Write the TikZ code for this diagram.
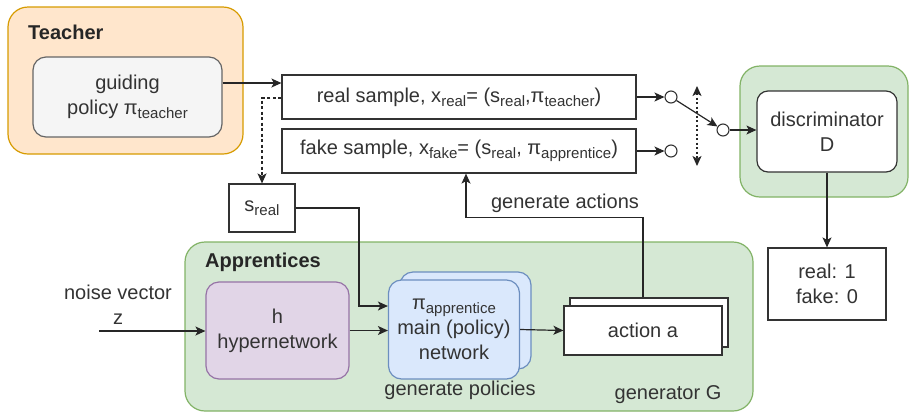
\documentclass[tikz,border=0pt]{standalone}
\usepackage{fontspec}
\setmainfont{Liberation Sans}
\usetikzlibrary{arrows.meta,calc}
\definecolor{orgfill}{HTML}{FFE6CC}
\definecolor{orgline}{HTML}{D79B00}
\definecolor{grnfill}{HTML}{D5E8D4}
\definecolor{grnline}{HTML}{82B366}
\definecolor{purfill}{HTML}{E1D5E7}
\definecolor{purline}{HTML}{9673A6}
\definecolor{blufill}{HTML}{DAE8FC}
\definecolor{bluline}{HTML}{6C8EBF}
\definecolor{gryfill}{HTML}{F5F5F5}
\definecolor{gryline}{HTML}{666666}
\definecolor{ink}{HTML}{333333}
% lowered, smaller text for subscripts
\newcommand\dn[1]{\raisebox{-0.4ex}{\fontsize{15}{15}\selectfont #1}}
\tikzset{
  txt/.style={font=\fontsize{20}{25}\selectfont, text=ink, align=center, inner sep=0pt},
  group/.style={rounded corners=20pt, line width=1.2pt},
  plainbox/.style={txt, draw=ink, fill=white, line width=1.2pt, rectangle},
  softbox/.style={txt, rounded corners=13pt, line width=1.2pt, rectangle},
  port/.style={circle, draw=ink, fill=white, line width=1.1pt, minimum size=12pt, inner sep=0pt},
  link/.style={draw=black!85, line width=1.2pt,
    arrows={-Stealth[length=10pt,width=9pt,inset=2.5pt]}},
  bothlink/.style={draw=black!85, line width=1.3pt,
    arrows={Stealth[length=10pt,width=9pt,inset=2.5pt]-Stealth[length=10pt,width=9pt,inset=2.5pt]}},
  heading/.style={font=\fontsize{20}{24}\selectfont\bfseries, text=black!85, anchor=west, inner sep=0pt},
}
\begin{document}
\begin{tikzpicture}[x=1pt, y=-1pt]
\useasboundingbox (0,0) rectangle (909,413);

% group backgrounds
\draw[group, fill=orgfill, draw=orgline] (8,7) rectangle (243,154);
\draw[group, fill=grnfill, draw=grnline] (740,66) rectangle (908,197);
\draw[group, fill=grnfill, draw=grnline] (185,242) rectangle (753,411);
\node[heading] (teachlbl) at (28,32) {Teacher};
\node[heading] (applbl) at (205,262) {Apprentices};

% teacher policy
\node[softbox, fill=gryfill, draw=gryline, minimum width=189pt, minimum height=80pt]
  (guide) at (127.5,97) {guiding\\policy π\dn{teacher}};

% samples
\node[plainbox, minimum width=354pt, minimum height=44pt] (real) at (459,97)
  {real sample, x\dn{real}= (s\dn{real},π\dn{teacher})};
\node[plainbox, minimum width=354pt, minimum height=44pt] (fake) at (459,151)
  {fake sample, x\dn{fake}= (s\dn{real}, π\dn{apprentice})};

% switch
\node[port] (rc) at (671,97) {};
\node[port] (fc) at (671,151) {};
\node[port] (sw) at (723,130) {};
\coordinate (swtop) at (697,86);
\coordinate (swbot) at (697,166);

% discriminator
\node[softbox, fill=white, draw=ink, rounded corners=11pt, minimum width=140pt, minimum height=81pt]
  (disc) at (827,131.5) {discriminator\\D};
\node[plainbox, minimum width=118pt, minimum height=72pt] (out) at (827,284)
  {real: 1\\fake: 0};

% real state
\node[plainbox, minimum width=66pt, minimum height=48pt] (sreal) at (262,208) {s\dn{real}};

% apprentices
\node[softbox, fill=purfill, draw=purline, minimum width=143pt, minimum height=97pt]
  (hyper) at (277.5,330.5) {h\\hypernetwork};
\node[softbox, fill=blufill, draw=bluline, minimum width=131pt, minimum height=97pt]
  (piB) at (465.5,320.5) {};
\node[softbox, fill=blufill, draw=bluline, minimum width=131pt, minimum height=99pt]
  (piF) at (454,329.5) {π\dn{apprentice}\\main (policy)\\network};
\node[plainbox, minimum width=158pt, minimum height=49pt] (actB) at (649,322.5) {};
\node[plainbox, minimum width=158pt, minimum height=49pt] (actF) at (643,330.5) {action a};

\node[txt] (genpol) at (460,390) {generate policies};
\node[txt] (genG) at (668,395) {generator G};
\node[txt] (noise) at (118,305) {noise vector\\z};
\coordinate (nz) at (99,331);
\node[txt] (genact) at (565,203) {generate actions};

% connectors
\draw[link] ([yshift=14pt]guide.east) -- ([yshift=14pt]real.west);
\draw[link, dash pattern=on 3pt off 2.5pt]
  ([yshift=-1pt]real.west) -| (sreal.north);
\draw[link] (real.east) -- (rc);
\draw[link] (fake.east) -- (fc);
\draw[link] (rc) -- (sw);
\draw[link] (sw) -- (disc.west |- sw);
\draw[bothlink, dash pattern=on 2pt off 2.5pt] (swtop) -- (swbot);
\draw[link] (disc.south) -- (out.north);
\draw[link] (sreal.east) -| ([xshift=-29pt, yshift=23.5pt]piF.west) -- ([yshift=23.5pt]piF.west);
\draw[link] (hyper.east) -- (hyper.east -| piF.west);
\draw[link] (nz) -- (hyper.west |- nz);
\draw[link] (piF.east) -- (actF.west);
\draw[link] ([xshift=-6pt]actB.north) |- ([xshift=7pt, yshift=-44pt]fake.south) -- ([xshift=7pt]fake.south);
\end{tikzpicture}
\end{document}
